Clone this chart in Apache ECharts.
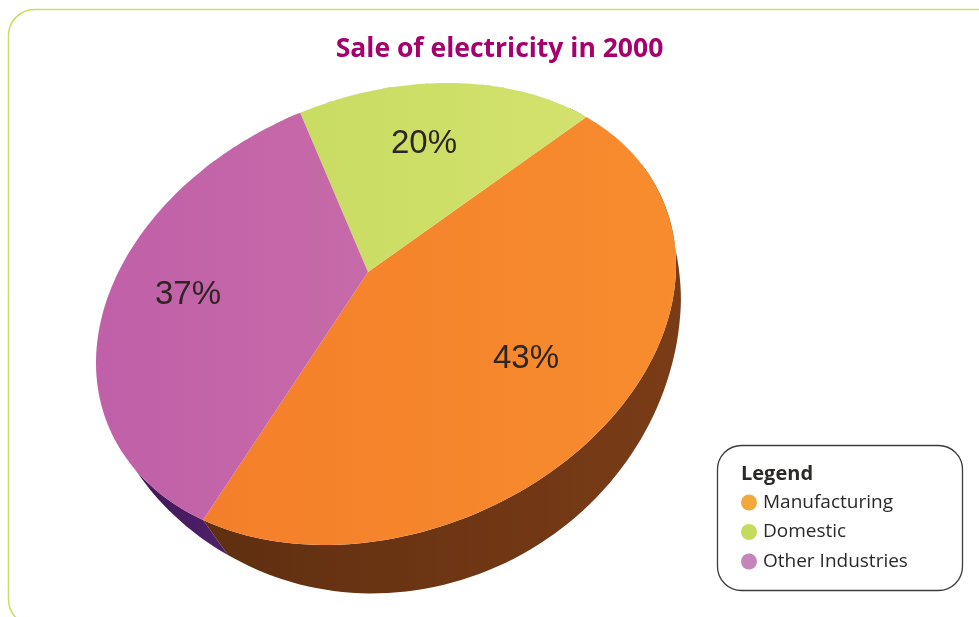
<!DOCTYPE html>
<html><head><meta charset="utf-8">
<style>html,body{margin:0;padding:0;background:#fff}#c{width:979px;height:617px}</style>
<script src="https://cdn.jsdelivr.net/npm/echarts@6/dist/echarts.min.js"></script>
</head><body><div id="c"></div>
<script>
const titleText = 'Sale of electricity in 2000';
const categories = ['Manufacturing', 'Domestic', 'Other Industries'];
const shares = [43, 20, 37];

const topColors = [
  ['#f47f2a', '#f78c2e'],
  ['#c9dc62', '#d3e26e'],
  ['#c060a8', '#c76aa8']
];
const sideColors = [
  ['#5f2f10', '#7a3c17'],
  ['#5f2f10', '#7a3c17'],
  ['#3b1350', '#5a2878']
];
const legendColors = ['#f2a93c', '#c4dc5e', '#c585bc'];

// Tilted ellipse of the pie's top face, and where the slices meet on it (perspective).
const E = {cx: 386, cy: 314, A: 290, B: 231, tilt: 12.2 * Math.PI / 180};
const apex = [368, 272];
const startAngle = 119.6;
// Thickness of the disc seen in perspective: x offset, and y offset as a + b cos t + c sin t.
const depth = {dx: 5, a: -1, b: 30.4, c: 54, skew: 5 * Math.PI / 180};
const labelAt = [[526, 359], [424, 144], [188, 295]];

const apexU = (apex[0] - E.cx) / E.A;
const apexV = ((apex[1] - E.cy) / E.B + apexU * Math.sin(E.tilt)) / Math.cos(E.tilt);
const apexR = Math.hypot(apexU, apexV);
const k = apexR / (1 + Math.sqrt(1 - apexR * apexR));
const aRe = k * apexU / apexR, aIm = k * apexV / apexR;

function rimParam(deg) {
  const p = deg * Math.PI / 180, wx = Math.cos(p), wy = Math.sin(p);
  const nx = wx + aRe, ny = wy + aIm;
  const dx = 1 + aRe * wx + aIm * wy, dy = aRe * wy - aIm * wx;
  return Math.atan2(ny * dx - nx * dy, nx * dx + ny * dy);
}
function rimPoint(t) {
  return [E.cx + E.A * Math.cos(t), E.cy + E.B * Math.sin(t - E.tilt)];
}
function lowerPoint(t0) {
  const t = t0 - depth.skew;
  const p = rimPoint(t);
  const dy = Math.max(0, depth.a + depth.b * Math.cos(t) + depth.c * Math.sin(t));
  return [p[0] + depth.dx * Math.min(1, dy / 30), p[1] + dy];
}
function sliceParams(i) {
  const before = shares.slice(0, i).reduce((s, v) => s + v, 0);
  const total = shares.reduce((s, v) => s + v, 0);
  const a0 = startAngle - before / total * 360;
  const a1 = a0 - shares[i] / total * 360;
  const ts = [];
  const n = Math.ceil((a0 - a1) / 1.5);
  for (let j = 0; j <= n; j++) ts.push(rimParam(a0 + (a1 - a0) * j / n));
  return ts;
}
function grad(c) {
  return new echarts.graphic.LinearGradient(0, 0, 1, 0, [{offset: 0, color: c[0]}, {offset: 1, color: c[1]}]);
}
const sideSeries = {
  type: 'custom', coordinateSystem: 'none', z: 1, silent: true, legendHoverLink: false,
  data: shares.map((v, i) => [v, i]),
  renderItem(params, api) {
    const i = api.value(1), ts = sliceParams(i);
    const upper = ts.map(rimPoint);
    const lower = ts.map(lowerPoint).reverse();
    return {type: 'polygon', shape: {points: upper.concat(lower)}, style: {fill: grad(sideColors[i])}};
  }
};
const topSeries = categories.map((name, i) => ({
  type: 'custom', name, coordinateSystem: 'none', z: 2, silent: true,
  itemStyle: {color: topColors[i][0]},
  data: [[shares[i]]],
  renderItem(params, api) {
    return {type: 'group', children: [
      {type: 'polygon', shape: {points: [apex].concat(sliceParams(i).map(rimPoint))}, style: {fill: grad(topColors[i])}},
      {type: 'text', z2: 5, style: {text: api.value(0) + '%', x: labelAt[i][0], y: labelAt[i][1],
        align: 'center', verticalAlign: 'middle', fill: '#2e2622',
        font: '33px "Liberation Sans", Arial, sans-serif'}}
    ]};
  }
}));

const chart = echarts.init(document.getElementById('c'), null, {renderer: 'canvas'});
chart.setOption({
  animation: false,
  backgroundColor: '#fff',
  title: {text: titleText, left: 494.5, top: 31, textAlign: 'center',
    textStyle: {color: '#a5006b', fontFamily: '"Open Sans"', fontWeight: 'bold', fontSize: 26.5}},
  legend: {
    orient: 'vertical', left: 741, top: 492, padding: 0, itemGap: 8.5,
    icon: 'circle', itemWidth: 16, itemHeight: 16, selectedMode: false,
    data: categories.map((name, i) => ({name, itemStyle: {color: legendColors[i]}})),
    textStyle: {color: '#2b2a29', fontFamily: '"Open Sans"', fontSize: 19, padding: [0, 0, 0, 1], lineHeight: 21}
  },
  graphic: [
    {type: 'rect', z: -1, shape: {x: 8.5, y: 9.5, width: 1100, height: 616, r: 26},
      style: {fill: '#fff', stroke: '#c8de60', lineWidth: 1.5}},
    {type: 'rect', z: 0, shape: {x: 717.5, y: 445.5, width: 245, height: 145, r: 24},
      style: {fill: '#fff', stroke: '#3c3c3c', lineWidth: 1.3}},
    {type: 'text', z: 1, style: {text: 'Legend', x: 741, y: 474, verticalAlign: 'middle',
      fill: '#2b2a29', font: 'bold 20px "Open Sans"'}}
  ],
  series: [sideSeries].concat(topSeries)
});
</script></body></html>
